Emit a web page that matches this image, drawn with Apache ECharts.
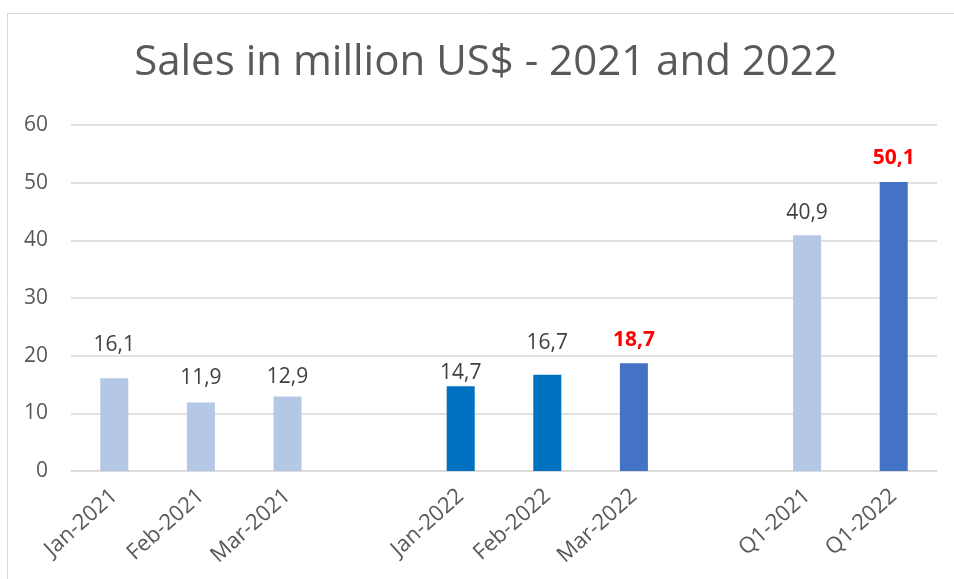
<!DOCTYPE html>
<html>
<head>
<meta charset="utf-8">
<script src="https://cdn.jsdelivr.net/npm/echarts@6/dist/echarts.min.js"></script>
<style>
  html, body { margin: 0; padding: 0; background: #fff; }
  #chart { width: 954px; height: 579px; }
</style>
</head>
<body>
<div id="chart"></div>
<script>
// gaps between the groups are empty categories
const categories = ['Jan-2021', 'Feb-2021', 'Mar-2021', '', 'Jan-2022', 'Feb-2022', 'Mar-2022', ' ', 'Q1-2021', 'Q1-2022'];
const sales = [16.1, 11.9, 12.9, null, 14.7, 16.7, 18.7, null, 40.9, 50.1];
const highlighted = [false, false, false, false, false, false, true, false, false, true];
const yTicks = [0, 10, 20, 30, 40, 50, 60];

// styling per bar (labels were nudged by hand in the original)
const barColors = ['#B4C7E7', '#B4C7E7', '#B4C7E7', null, '#0070C0', '#0070C0', '#4472C4', null, '#B4C7E7', '#4472C4'];
const labelGap = [23, 14, 9, 0, 3, 21, 13, 0, 12, 14];

const font = '"Open Sans", sans-serif';

const chart = echarts.init(document.getElementById('chart'));

const data = sales.map((v, i) => {
  if (v === null) return null;
  return {
    value: v,
    itemStyle: { color: barColors[i] },
    label: highlighted[i]
      ? { color: '#FF0000', fontWeight: 'bold', distance: labelGap[i] }
      : { color: '#404040', distance: labelGap[i] }
  };
});

chart.setOption({
  animation: false,
  graphic: [
    {
      type: 'rect',
      shape: { x: 7.5, y: 13.5, width: 1000, height: 1000 },
      style: { fill: 'none', stroke: '#d9d9d9', lineWidth: 1 },
      silent: true
    }
  ],
  title: {
    text: 'Sales in million US$ - 2021 and 2022',
    left: 481,
    textAlign: 'center',
    top: 37,
    textStyle: {
      fontFamily: font,
      fontSize: 42,
      fontWeight: 'normal',
      color: '#595959'
    }
  },
  grid: {
    left: 71,
    right: 17,
    top: 125,
    bottom: 108
  },
  xAxis: {
    type: 'category',
    data: categories,
    axisTick: { show: false },
    axisLine: { lineStyle: { color: '#d9d9d9', width: 1.5 } },
    axisLabel: {
      rotate: 42,
      interval: 0,
      margin: 22,
      padding: [0, 0, 0, 0],
      fontFamily: font,
      fontSize: 22,
      color: '#595959'
    }
  },
  yAxis: {
    type: 'value',
    min: yTicks[0],
    max: yTicks[yTicks.length - 1],
    interval: 10,
    axisLine: { show: false },
    axisTick: { show: false },
    splitLine: { lineStyle: { color: '#d9d9d9', width: 1.5 } },
    axisLabel: {
      margin: 23,
      fontFamily: font,
      fontSize: 21,
      color: '#595959'
    }
  },
  series: [
    {
      type: 'bar',
      barWidth: 28,
      data,
      label: {
        show: true,
        position: 'top',
        fontFamily: font,
        fontSize: 21,
        formatter: p => String(p.value).replace('.', ',')
      }
    }
  ]
});
</script>
</body>
</html>
